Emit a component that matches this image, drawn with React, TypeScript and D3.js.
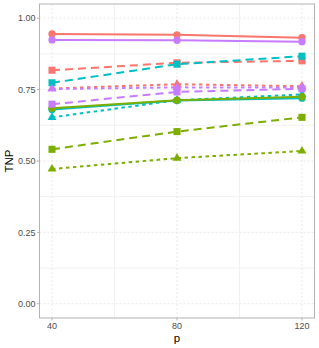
import * as d3 from "d3";
import { useEffect, useRef } from "react";

// x values (p) and the twelve series
const pValues = [40, 80, 120];
const yTicks = [0, 0.25, 0.5, 0.75, 1];
const xTicks = [40, 80, 120];

const redSolid = [0.945, 0.942, 0.932];
const redDashed = [0.818, 0.844, 0.851];
const redDotted = [0.754, 0.769, 0.762];
const tealSolid = [0.68, 0.712, 0.72];
const tealDashed = [0.774, 0.839, 0.867];
const tealDotted = [0.653, 0.713, 0.733];
const greenSolid = [0.685, 0.713, 0.725];
const greenDashed = [0.541, 0.603, 0.653];
const greenDotted = [0.472, 0.51, 0.535];
const purpleSolid = [0.924, 0.923, 0.918];
const purpleDashed = [0.699, 0.742, 0.753];
const purpleDotted = [0.752, 0.758, 0.757];

const series = [
  { color: "#F8766D", type: "solid", values: redSolid },
  { color: "#F8766D", type: "dashed", values: redDashed },
  { color: "#F8766D", type: "dotted", values: redDotted },
  { color: "#00BFC4", type: "solid", values: tealSolid },
  { color: "#00BFC4", type: "dashed", values: tealDashed },
  { color: "#00BFC4", type: "dotted", values: tealDotted },
  { color: "#7CAE00", type: "solid", values: greenSolid },
  { color: "#7CAE00", type: "dashed", values: greenDashed },
  { color: "#7CAE00", type: "dotted", values: greenDotted },
  { color: "#C77CFF", type: "solid", values: purpleSolid },
  { color: "#C77CFF", type: "dashed", values: purpleDashed },
  { color: "#C77CFF", type: "dotted", values: purpleDotted },
];

const App = () => {
  const svgRef = useRef<SVGSVGElement>(null);
  useEffect(() => {
    if (!svgRef.current) return;
    const svg = d3.select(svgRef.current);
    svg.selectAll("*").remove();
    const width = 319;
    const height = 348;
    const left = 39.5;
    const right = 314.5;
    const top = 4;
    const bottom = 318;
    const font = "'Liberation Sans', Arial, sans-serif";

    const x = d3.scaleLinear().domain([36, 124]).range([left, right]);
    const y = d3.scaleLinear().domain([-0.05, 1.05]).range([bottom, top]);

    // grid: minor solid, major dashed
    const g = svg.append("g");
    const yMinor = [0.125, 0.375, 0.625, 0.875];
    const xMinor = [60, 100];
    g.selectAll(".ymin")
      .data(yMinor)
      .join("line")
      .attr("x1", left)
      .attr("x2", right)
      .attr("y1", (d) => y(d))
      .attr("y2", (d) => y(d))
      .attr("stroke", "#EDEDED")
      .attr("stroke-width", 0.8);
    g.selectAll(".xmin")
      .data(xMinor)
      .join("line")
      .attr("y1", top)
      .attr("y2", bottom)
      .attr("x1", (d) => x(d))
      .attr("x2", (d) => x(d))
      .attr("stroke", "#EDEDED")
      .attr("stroke-width", 0.8);
    g.selectAll(".ymaj")
      .data(yTicks)
      .join("line")
      .attr("x1", left)
      .attr("x2", right)
      .attr("y1", (d) => y(d))
      .attr("y2", (d) => y(d))
      .attr("stroke", "#E0E0E0")
      .attr("stroke-width", 0.7)
      .attr("stroke-dasharray", "2,2");
    g.selectAll(".xmaj")
      .data(xTicks)
      .join("line")
      .attr("y1", top)
      .attr("y2", bottom)
      .attr("x1", (d) => x(d))
      .attr("x2", (d) => x(d))
      .attr("stroke", "#E0E0E0")
      .attr("stroke-width", 0.7)
      .attr("stroke-dasharray", "2,2");

    const dash: { [k: string]: string | null } = {
      solid: null,
      dashed: "8,5",
      dotted: "3.5,3.5",
    };
    const line = d3
      .line<number>()
      .x((_, i) => x(pValues[i]))
      .y((d) => y(d));

    svg
      .append("g")
      .selectAll("path")
      .data(series)
      .join("path")
      .attr("d", (d) => line(d.values))
      .attr("fill", "none")
      .attr("stroke", (d) => d.color)
      .attr("stroke-width", 2)
      .attr("stroke-dasharray", (d) => dash[d.type]);

    const shape: { [k: string]: string } = {
      solid: d3.symbol(d3.symbolCircle, 42)()!,
      dashed: d3.symbol(d3.symbolSquare, 50)()!,
      dotted: d3.symbol(d3.symbolTriangle, 34)()!,
    };
    series.forEach((s) => {
      svg
        .append("g")
        .selectAll("path")
        .data(s.values)
        .join("path")
        .attr("transform", (d, i) => `translate(${x(pValues[i])},${y(d)})`)
        .attr("d", shape[s.type])
        .attr("fill", s.color);
    });

    // panel border
    svg
      .append("rect")
      .attr("x", left)
      .attr("y", top)
      .attr("width", right - left)
      .attr("height", bottom - top)
      .attr("fill", "none")
      .attr("stroke", "#B3B3B3")
      .attr("stroke-width", 1);

    // ticks and labels
    const yAx = svg.append("g");
    yAx
      .selectAll("line")
      .data(yTicks)
      .join("line")
      .attr("x1", left - 2.5)
      .attr("x2", left)
      .attr("y1", (d) => y(d))
      .attr("y2", (d) => y(d))
      .attr("stroke", "#B3B3B3");
    yAx
      .selectAll("text")
      .data(yTicks)
      .join("text")
      .attr("x", left - 4)
      .attr("y", (d) => y(d))
      .attr("dy", "0.35em")
      .attr("text-anchor", "end")
      .attr("font-family", font)
      .attr("font-size", 9)
      .attr("fill", "#4D4D4D")
      .text((d) => d3.format(".2f")(d));

    const xAx = svg.append("g");
    xAx
      .selectAll("line")
      .data(xTicks)
      .join("line")
      .attr("x1", (d) => x(d))
      .attr("x2", (d) => x(d))
      .attr("y1", bottom)
      .attr("y2", bottom + 2.5)
      .attr("stroke", "#B3B3B3");
    xAx
      .selectAll("text")
      .data(xTicks)
      .join("text")
      .attr("x", (d) => x(d))
      .attr("y", bottom + 11)
      .attr("text-anchor", "middle")
      .attr("font-family", font)
      .attr("font-size", 9)
      .attr("fill", "#4D4D4D")
      .text((d) => d);

    svg
      .append("text")
      .attr("x", (left + right) / 2)
      .attr("y", 342)
      .attr("text-anchor", "middle")
      .attr("font-family", font)
      .attr("font-size", 11.5)
      .attr("fill", "#000")
      .text("p");
    svg
      .append("text")
      .attr("transform", `translate(13,${(top + bottom) / 2}) rotate(-90)`)
      .attr("text-anchor", "middle")
      .attr("font-family", font)
      .attr("font-size", 11.5)
      .attr("fill", "#000")
      .text("TNP");

    svg.attr("width", width).attr("height", height);
  }, []);
  return (
    <svg
      ref={svgRef}
      width={319}
      height={348}
      style={{ position: "absolute", left: 0, top: 0, background: "#fff" }}
    ></svg>
  );
};

export default App;
